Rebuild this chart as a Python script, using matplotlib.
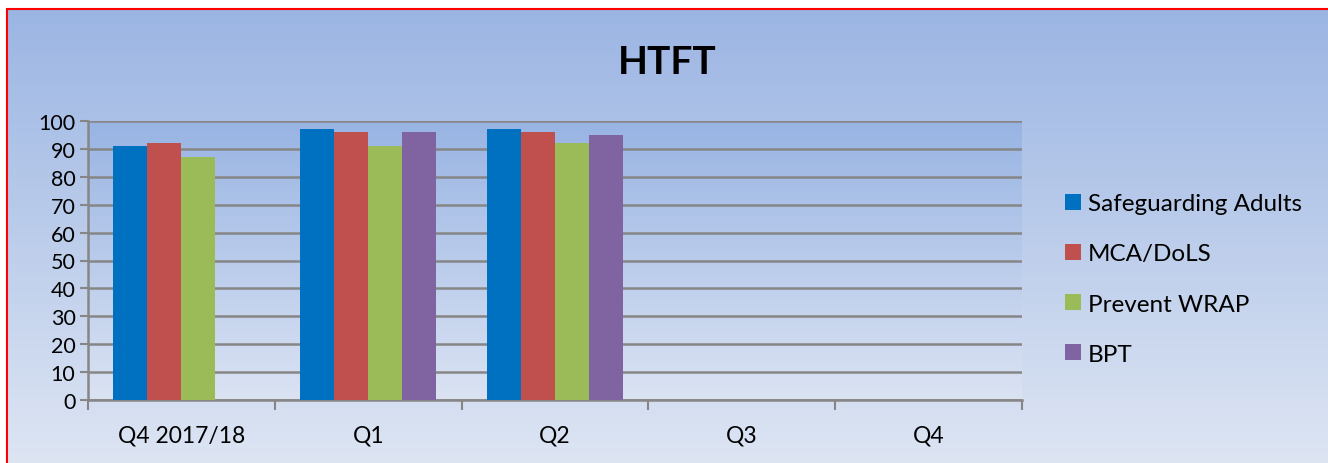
import numpy as np
import matplotlib.pyplot as plt
from matplotlib.patches import Rectangle
from matplotlib.colors import LinearSegmentedColormap

plt.rcParams['font.family'] = ['Lato', 'DejaVu Sans']

categories = ['Q4 2017/18', 'Q1', 'Q2', 'Q3', 'Q4']
series_names = ['Safeguarding Adults', 'MCA/DoLS', 'Prevent WRAP', 'BPT']
safeguarding = [91, 97, 97, np.nan, np.nan]
mca_dols = [92, 96, 96, np.nan, np.nan]
prevent_wrap = [87, 91, 92, np.nan, np.nan]
bpt = [np.nan, 96, 95, np.nan, np.nan]
colors = ['#0070C0', '#C0504D', '#9BBB59', '#8064A2']
yticks = list(range(0, 101, 10))

W, H = 1328, 464
fig = plt.figure(figsize=(W / 100, H / 100), dpi=100)
fig.patch.set_facecolor('white')

# chart area background with gradient
bg = fig.add_axes([7 / W, 0, 1 - 7 / W, (H - 10) / H], zorder=-10)
bg_cmap = LinearSegmentedColormap.from_list('bg', ['#9BB5E3', '#DDE5F3'])
bg.imshow(np.linspace(0, 1, 256).reshape(-1, 1), cmap=bg_cmap, aspect='auto',
          extent=[0, 1, 0, 1])
bg.axis('off')
fig.patches.append(Rectangle((7 / W, -0.1), 1.1, 1.1 - 10 / H,
                             transform=fig.transFigure, fill=False,
                             edgecolor='#FF0000', linewidth=1.5, zorder=5))

ax = fig.add_axes([88 / W, (H - 401) / H, (1022 - 88) / W, (401 - 122) / H])
ax.set_facecolor('none')
plot_cmap = LinearSegmentedColormap.from_list('pa', ['#98B4E3', '#DBE3F3'])
ax.imshow(np.linspace(0, 1, 256).reshape(-1, 1), cmap=plot_cmap, aspect='auto',
          extent=[0, 1, 0, 1], transform=ax.transAxes, zorder=0)

x = np.arange(len(categories))
width = 0.182
all_series = [safeguarding, mca_dols, prevent_wrap, bpt]
for i, (vals, name, c) in enumerate(zip(all_series, series_names, colors)):
    ax.bar(x + (i - 1.5) * width, vals, width, color=c, label=name, zorder=3,
           linewidth=0)

ax.set_xlim(-0.5, len(categories) - 0.5)
ax.set_ylim(0, 100)
ax.set_yticks(yticks)
ax.set_xticks(x)
ax.set_xticklabels(categories)
ax.set_xticks(np.arange(-0.5, len(categories)), minor=True)
ax.tick_params(axis='x', which='major', length=0, pad=18, labelsize=16.5)
ax.tick_params(axis='x', which='minor', length=7, width=1.5, color='#868686')
ax.tick_params(axis='y', length=6, width=1.5, color='#868686', pad=3, labelsize=15.5)
ax.yaxis.grid(True, color='#868686', linewidth=1.8, zorder=1)
ax.set_axisbelow(True)
for s in ['top', 'right']:
    ax.spines[s].set_visible(False)
for s in ['left', 'bottom']:
    ax.spines[s].set_color('#868686')
    ax.spines[s].set_linewidth(1.8)

fig.text(0.5 * (7 + W) / W, 1 - 62 / H, 'HTFT', ha='center', va='center',
         fontsize=28, fontweight='bold')

fig.legend(loc='center left', bbox_to_anchor=(1043 / W, 1 - 280 / H),
           frameon=False, fontsize=17.5, labelspacing=1.2, handlelength=0.65,
           handleheight=0.65, handletextpad=0.3)

fig.savefig('out.png', dpi=100)
